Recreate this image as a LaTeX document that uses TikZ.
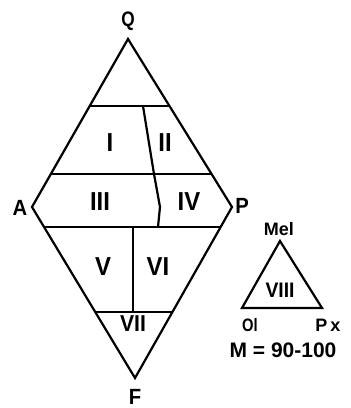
\documentclass[tikz,border=0pt]{standalone}
\usepackage{fontspec}
\setmainfont{Liberation Sans}
\newfontfamily\condfont{Liberation Sans}[FakeStretch=0.92,UprightFont=*-Bold]
\newfontfamily\narrowfont{Liberation Sans}[FakeStretch=0.82,UprightFont=*-Bold]
\newfontfamily\widefont{Liberation Sans}[UprightFont=*-Bold]
\usetikzlibrary{calc}
\begin{document}
\begin{tikzpicture}[x=1pt,y=-1pt,
  edge/.style={line width=2.2pt,line join=miter},
  num/.style={font=\condfont\fontsize{26}{26}\selectfont,inner sep=0pt},
  vert/.style={font=\condfont\fontsize{22}{22}\selectfont,inner sep=0pt},
  small/.style={font=\widefont\fontsize{18}{18}\selectfont,inner sep=0pt}]
\useasboundingbox (0,0) rectangle (351,408);
% vertices
\coordinate (Q) at (128,39);
\coordinate (A) at (32,207);
\coordinate (P) at (232,207);
\coordinate (F) at (135,378);
% cross lines
\coordinate (l1a) at ($(Q)!0.399!(A)$);
\coordinate (l1b) at ($(Q)!0.399!(P)$);
\coordinate (l2a) at ($(Q)!0.804!(A)$);
\coordinate (l2b) at ($(Q)!0.804!(P)$);
\coordinate (l3a) at ($(A)!0.117!(F)$);
\coordinate (l3b) at ($(P)!0.117!(F)$);
\coordinate (l4a) at ($(A)!0.614!(F)$);
\coordinate (l4b) at ($(P)!0.614!(F)$);
% dividers
\coordinate (d1) at (143,106);
\coordinate (d2) at (154,174);
\coordinate (d3) at (160,207);
\coordinate (d4) at (158,227);
\coordinate (e1) at (133,227);
\coordinate (e2) at (133,312);
\draw[edge] (Q) -- (P) -- (F) -- (A) -- cycle;
\draw[edge] (l1a) -- (l1b);
\draw[edge] (l2a) -- (l2b);
\draw[edge] (l3a) -- (l3b);
\draw[edge] (l4a) -- (l4b);
\draw[edge] (d1) -- (d2) -- (d3) -- (d4);
\draw[edge] (e1) -- (e2);
% labels
\node[vert,font=\narrowfont\fontsize{21}{21}\selectfont] (lQ) at (128,21) {Q};
\node[vert] (lA) at (20,208) {A};
\node[vert] (lP) at (242,206) {P};
\node[vert,anchor=base] (lF) at (135,404) {F};
\node[num] (n1) at (110,143) {I};
\node[num] (n2) at (165,143) {II};
\node[num] (n3) at (100,202) {III};
\node[num] (n4) at (189,202) {IV};
\node[num] (n5) at (103,267) {V};
\node[num] (n6) at (158,267) {VI};
\node[num,font=\condfont\fontsize{23}{23}\selectfont] (n7) at (133,324) {VII};
% small triangle
\coordinate (Mel) at (280,241);
\coordinate (Ol) at (242,308);
\coordinate (Px) at (322,308);
\draw[edge] (Mel) -- (Px) -- (Ol) -- cycle;
\node[small] (lMel) at (279,229) {Mel};
\node[num,font=\condfont\fontsize{21}{21}\selectfont] (n8) at (280,290) {VIII};
\node[small,font=\narrowfont\fontsize{18}{18}\selectfont] (lOl) at (250,325) {Ol};
\node[small] (lPx) at (328,325) {P\,x};
\node[inner sep=0pt,font=\widefont\fontsize{21}{21}\selectfont] (lM) at (283,350) {M = 90-100};
\end{tikzpicture}
\end{document}
